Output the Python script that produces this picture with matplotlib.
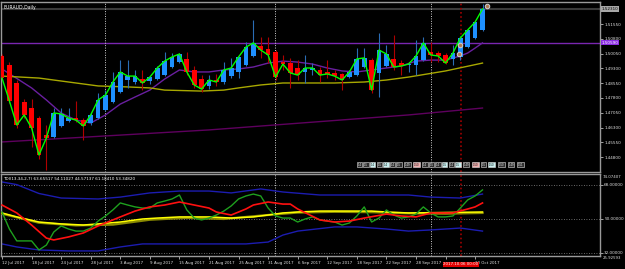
import matplotlib
matplotlib.use('Agg')
import matplotlib.pyplot as plt
import matplotlib.transforms as mtransforms

W, H = 625, 269

# ---- EURAUD daily candles (bar 0 = 12 Jul 2017) ----
opens = [1.4993, 1.4947, 1.4856, 1.4760, 1.4729, 1.4678, 1.4592, 1.4582, 1.4638, 1.4663,
         1.4678, 1.4668, 1.4653, 1.4678, 1.4719, 1.4760, 1.4810, 1.4871, 1.4861, 1.4876,
         1.4866, 1.4876, 1.4896, 1.4937, 1.4962, 1.4978, 1.4922, 1.4876, 1.4841, 1.4871,
         1.4861, 1.4891, 1.4912, 1.4947, 1.4993, 1.5043, 1.5028, 1.5013, 1.4962, 1.4957,
         1.4932, 1.4912, 1.4922, 1.4922, 1.4912, 1.4907, 1.4902, 1.4886, 1.4896, 1.4937,
         1.4972, 1.4907, 1.4942, 1.4978, 1.4957, 1.4947, 1.4947, 1.4972, 1.5013, 1.5008,
         1.4998, 1.4978, 1.4988, 1.5038, 1.5084, 1.5125]
highs = [1.5003, 1.4962, 1.4871, 1.4775, 1.4775, 1.4689, 1.4643, 1.4729, 1.4729, 1.4729,
         1.4765, 1.4678, 1.4704, 1.4805, 1.4820, 1.4912, 1.4972, 1.4972, 1.4922, 1.4922,
         1.4891, 1.4942, 1.5013, 1.5008, 1.5008, 1.5013, 1.4942, 1.4896, 1.4896, 1.4902,
         1.4962, 1.4983, 1.4988, 1.5064, 1.5175, 1.5089, 1.5089, 1.5023, 1.4998, 1.4983,
         1.4972, 1.4998, 1.4957, 1.4937, 1.4972, 1.4922, 1.4907, 1.4922, 1.5033, 1.5033,
         1.4983, 1.5109, 1.5049, 1.5099, 1.4972, 1.4962, 1.5074, 1.5089, 1.5064, 1.5018,
         1.5008, 1.5049, 1.5094, 1.5130, 1.5170, 1.5256]
lows = [1.4871, 1.4754, 1.4628, 1.4678, 1.4531, 1.4471, 1.4415, 1.4577, 1.4633, 1.4658,
        1.4658, 1.4567, 1.4643, 1.4673, 1.4714, 1.4754, 1.4805, 1.4831, 1.4851, 1.4820,
        1.4851, 1.4871, 1.4891, 1.4932, 1.4957, 1.4896, 1.4831, 1.4810, 1.4825, 1.4841,
        1.4851, 1.4881, 1.4881, 1.4942, 1.4988, 1.4983, 1.4957, 1.4871, 1.4922, 1.4831,
        1.4871, 1.4856, 1.4896, 1.4861, 1.4881, 1.4871, 1.4820, 1.4881, 1.4891, 1.4932,
        1.4805, 1.4785, 1.4937, 1.4922, 1.4896, 1.4912, 1.4896, 1.4967, 1.4962, 1.4962,
        1.4952, 1.4947, 1.4972, 1.5033, 1.5079, 1.5120]
closes = [1.4881, 1.4765, 1.4643, 1.4694, 1.4628, 1.4491, 1.4577, 1.4704, 1.4699, 1.4678,
          1.4668, 1.4638, 1.4694, 1.4770, 1.4795, 1.4861, 1.4912, 1.4891, 1.4891, 1.4856,
          1.4886, 1.4932, 1.4967, 1.4988, 1.5003, 1.4912, 1.4846, 1.4825, 1.4871, 1.4861,
          1.4922, 1.4932, 1.4988, 1.5038, 1.5059, 1.5023, 1.4998, 1.4886, 1.4952, 1.4907,
          1.4896, 1.4932, 1.4932, 1.4896, 1.4902, 1.4891, 1.4871, 1.4912, 1.4978, 1.4983,
          1.4820, 1.5023, 1.5003, 1.4937, 1.4942, 1.4952, 1.4993, 1.5059, 1.4998, 1.4993,
          1.4957, 1.5008, 1.5084, 1.5125, 1.5165, 1.5231]

# moving averages on the price chart (bar index, value)
ma_mid_bars = [0, 4, 6, 8, 10, 12, 14, 16, 18, 20, 22, 24, 26, 28, 30, 32, 34, 36, 38,
               40, 42, 44, 46, 48, 50, 52, 54, 56, 58, 60, 62, 63, 64, 65]
ma_mid = [1.4927, 1.4831, 1.4770, 1.4704, 1.4668, 1.4653, 1.4694, 1.4749, 1.4785, 1.4820,
          1.4876, 1.4922, 1.4912, 1.4912, 1.4922, 1.4927, 1.4937, 1.4957, 1.4967, 1.4962,
          1.4952, 1.4932, 1.4917, 1.4912, 1.4922, 1.4932, 1.4942, 1.4967, 1.4972, 1.4972,
          1.4993, 1.5008, 1.5033, 1.5059]
ma_slow_bars = [0, 5, 9, 13, 17, 20, 22, 27, 30, 32, 35, 38, 45, 49, 52, 55, 60, 65]
ma_slow = [1.4891, 1.4881, 1.4861, 1.4841, 1.4836, 1.4831, 1.4820, 1.4815, 1.4820, 1.4831,
           1.4846, 1.4856, 1.4856, 1.4861, 1.4871, 1.4886, 1.4917, 1.4957]
ma_long_bars = [0, 28, 55, 65]
ma_long = [1.4557, 1.4618, 1.4694, 1.4729]

hline_price = 1.50590
bid_price = 1.52310
price_ticks = [1.5155, 1.5080, 1.5005, 1.4930, 1.4855, 1.4780, 1.4705, 1.4630, 1.4555, 1.4480]

# every 4th bar; the 4 Oct label sits under the red time box on the chart
date_labels = ['12 Jul 2017', '18 Jul 2017', '24 Jul 2017', '28 Jul 2017', '3 Aug 2017',
               '9 Aug 2017', '15 Aug 2017', '21 Aug 2017', '25 Aug 2017', '31 Aug 2017',
               '6 Sep 2017', '12 Sep 2017', '18 Sep 2017', '22 Sep 2017', '28 Sep 2017',
               '', '10 Oct 2017']

# ---- TDI(13,34,2,7) sub window ----
tdi_rsi = [53.7, 44.7, 38.4, 38.4, 38.4, 33.6, 36.2, 43.1, 46.3, 44.7,
           43.6, 43.6, 45.2, 48.9, 51.6, 54.8, 58.5, 57.4, 56.4, 55.8,
           55.8, 58.5, 59.5, 60.6, 62.7, 54.8, 50.5, 49.5, 50.5, 52.1,
           54.2, 56.9, 60.6, 62.2, 63.2, 62.2, 55.8, 51.6, 50.5, 50.5,
           48.4, 50.0, 51.1, 49.5, 48.9, 48.4, 46.8, 47.9, 51.6, 56.4,
           48.4, 50.5, 54.8, 52.1, 50.5, 51.1, 52.6, 56.4, 53.2, 51.1,
           51.1, 51.6, 55.8, 60.1, 62.2, 65.4]
tdi_signal_bars = [0, 2, 4, 6, 7, 9, 11, 13, 16, 18, 20, 22, 24, 26, 28, 29, 31, 33, 34,
                   36, 38, 39, 40, 43, 45, 47, 49, 52, 54, 56, 58, 61, 63, 64, 65]
tdi_signal = [57.4, 53.2, 46.8, 39.9, 38.9, 40.5, 42.6, 46.3, 51.1, 54.2, 56.4, 57.4, 59.0,
              57.4, 55.8, 53.7, 52.1, 55.3, 57.4, 59.0, 57.9, 57.9, 55.3, 49.5, 48.4, 48.9,
              50.5, 52.6, 51.6, 51.1, 53.2, 53.2, 55.3, 56.4, 58.5]
tdi_base_bars = [0, 2, 5, 8, 11, 13, 16, 19, 21, 24, 28, 31, 34, 36, 38, 40, 43, 50, 52, 55, 65]
tdi_base = [53.2, 51.1, 48.4, 47.4, 46.8, 47.4, 48.4, 50.0, 50.5, 51.1, 51.1, 50.5, 51.1,
            52.1, 53.2, 53.7, 54.2, 54.2, 53.7, 53.2, 53.7]
tdi_base2_bars = [0, 5, 10, 15, 20, 25, 30, 35, 40, 45, 50, 55, 60, 65]
tdi_base2 = [52.8, 48.0, 46.6, 47.0, 49.6, 50.6, 50.0, 51.8, 53.4, 53.8, 53.6, 53.0, 52.8, 53.2]
tdi_upper_bars = [0, 2, 5, 8, 13, 16, 20, 24, 28, 31, 35, 38, 43, 55, 58, 62, 65]
tdi_upper = [69.6, 68.2, 63.5, 61.1, 60.6, 61.6, 63.8, 64.8, 64.8, 63.8, 65.9, 64.3, 62.7,
             62.7, 61.6, 61.1, 63.2]
tdi_lower_bars = [0, 2, 5, 9, 13, 16, 19, 28, 33, 36, 38, 40, 45, 48, 52, 55, 58, 62, 65]
tdi_lower = [36.8, 35.2, 33.6, 33.1, 33.1, 35.2, 36.8, 36.8, 36.8, 37.8, 41.5, 43.6, 45.8,
             45.8, 44.7, 43.6, 44.2, 45.2, 43.6]
tdi_title = 'TDI(13,34,2,7) 63.65517 54.11027 44.57137 61.18410 53.34820'


def add_ax(fig, left, top, right, bottom):
    '''axes placed by pixel edges'''
    return fig.add_axes([left / W, 1 - bottom / H, (right - left) / W, (bottom - top) / H])


def style(ax):
    ax.set_facecolor('black')
    for s in ax.spines.values():
        s.set_color('#9a9a9a')
        s.set_linewidth(1.0)


def main():
    fig = plt.figure(figsize=(W / 100, H / 100), dpi=100, facecolor='black')

    step = 7.38                      # pixels per bar
    xl = (-1 / step, 597 / step)

    # ---------------- price window ----------------
    ax = add_ax(fig, 1, 2, 600, 172)
    style(ax)
    ax.set_xlim(*xl)
    ax.set_ylim(1.44047, 1.52666)

    for i in range(len(closes)):
        o, h, l, c = opens[i], highs[i], lows[i], closes[i]
        up = c >= o
        body = '#1e90ff' if up else '#ff0000'
        wick = '#2a6db5' if up else '#b00000'
        ax.vlines(i, l, h, color=wick, linewidth=0.8, zorder=3)
        ax.bar(i, max(abs(c - o), 0.0002), bottom=min(o, c), width=0.64,
               color=body, linewidth=0, zorder=4)

    ax.plot(range(len(closes)), closes, color='#00ff00', linewidth=1.0, zorder=5)
    ax.plot(ma_mid_bars, ma_mid, color='#6a1fa0', linewidth=1.0, zorder=2)
    ax.plot(ma_slow_bars, ma_slow, color='#a8a800', linewidth=1.0, zorder=2)
    ax.plot(ma_long_bars, ma_long, color='#5e005e', linewidth=1.0, zorder=2)
    ax.axhline(hline_price, color='#7a26b0', linewidth=1.0, zorder=1)
    ax.axhline(bid_price, color='#3a3a3a', linewidth=1.5, zorder=1)

    # month separators and the vertical line object
    for b in [13.96, 36.99, 58.0]:
        ax.axvline(b, color='#d0d0d0', linestyle=(0, (1, 1.5)), linewidth=0.7, zorder=1)
    ax.axvline(62.06, color='#a00000', linestyle=(0, (1, 1.5)), linewidth=1.2, zorder=1)

    # trade markers
    ax.plot([62.0, 61.8, 65.6], [1.5049, 1.5003, 1.5246], linestyle='none', marker='o',
            markersize=3.2, markerfacecolor='#b07850', markeredgecolor='#c8c8c8',
            markeredgewidth=0.8, zorder=6)

    ax.yaxis.tick_right()
    ax.set_yticks(price_ticks)
    ax.set_yticklabels(['%.5f' % p for p in price_ticks])
    ax.tick_params(axis='y', colors='#e0e0e0', labelsize=3.0, length=2, width=0.5, pad=1)
    ax.set_xticks([])

    ax.text(0.004, 0.985, 'EURAUD,Daily', transform=ax.transAxes, color='white',
            fontsize=3.3, va='top', ha='left')

    yt = ax.get_yaxis_transform()
    ax.text(1.003, bid_price, '%.5f' % bid_price, transform=yt, fontsize=3.0, va='center',
            ha='left', color='black',
            bbox=dict(facecolor='#a8a8a8', edgecolor='none', pad=0.4))
    ax.text(1.003, hline_price, '%.5f' % hline_price, transform=yt, fontsize=3.0,
            va='center', ha='left', color='white',
            bbox=dict(facecolor='#8a2be2', edgecolor='none', pad=0.4))

    # row of small info boxes at the bottom of the price window
    boxes = [('1.4', '#303030'), ('1.5', '#303030'), ('1.4', '#c8f0f0'), ('1.5', '#303030'),
             ('1.4', '#c8f0f0'), ('1.4', '#303030'), ('1.5', '#303030'), ('1.49', '#303030'),
             ('1.50', '#f0b0b0'), ('1.4', '#303030'), ('1.5', '#303030'), ('1.4', '#303030'),
             ('1.5', '#c8f0f0'), ('1.4', '#303030'), ('1.5', '#c8f0f0'), ('1.49', '#303030'),
             ('1.50', '#f0b0b0'), ('1.5', '#303030'), ('1.50', '#c8f0f0'), ('1.50', '#303030'),
             ('1.49', '#303030'), ('1.51', '#303030')]
    xpix = 357
    for label, col in boxes:
        wpx = 5 if len(label) < 4 else 8
        x0 = (xpix - 1) / 599
        ax.text(x0 + wpx / 2 / 599, 0.042, label, transform=ax.transAxes, fontsize=1.8,
                ha='center', va='center', color='black' if col != '#303030' else 'white',
                bbox=dict(facecolor=col, edgecolor='#e0e0e0', linewidth=0.4,
                          boxstyle='square,pad=0.25'))
        xpix += wpx + 1.6

    # ---------------- TDI window ----------------
    ax2 = add_ax(fig, 1, 174, 600, 256)
    style(ax2)
    ax2.set_xlim(*xl)
    ax2.set_ylim(30.41, 73.82)
    for lvl in [68, 50, 32]:
        ax2.axhline(lvl, color='#8c8c8c', linestyle=(0, (1, 2)), linewidth=0.6, zorder=1)
    for b in [13.96, 36.99, 58.0]:
        ax2.axvline(b, color='#d0d0d0', linestyle=(0, (1, 1.5)), linewidth=0.7, zorder=1)
    ax2.axvline(62.06, color='#a00000', linestyle=(0, (1, 1.5)), linewidth=1.2, zorder=1)

    ax2.plot(tdi_upper_bars, tdi_upper, color='#1c1cb0', linewidth=1.0, zorder=2)
    ax2.plot(tdi_lower_bars, tdi_lower, color='#1c1cb0', linewidth=1.0, zorder=2)
    ax2.plot(tdi_base2_bars, tdi_base2, color='#8a8a00', linewidth=1.6, zorder=3)
    ax2.plot(tdi_base_bars, tdi_base, color='#ffff00', linewidth=1.1, zorder=4)
    ax2.plot(range(len(tdi_rsi)), tdi_rsi, color='#1ea01e', linewidth=1.0, zorder=5)
    ax2.plot(tdi_signal_bars, tdi_signal, color='#ff1010', linewidth=1.2, zorder=6)

    ax2.text(0.003, 0.96, tdi_title, transform=ax2.transAxes, color='white', fontsize=3.0,
             va='top', ha='left')

    ax2.yaxis.tick_right()
    ax2.set_yticks([68, 50, 32])
    ax2.set_yticklabels(['68.00000', '50.00000', '32.00000'])
    ax2.tick_params(axis='y', colors='#e0e0e0', labelsize=3.0, length=2, width=0.5, pad=1)
    yt2 = ax2.get_yaxis_transform()
    ax2.text(1.005, 72.4, '74.07407', transform=yt2, fontsize=2.8, va='center', ha='left',
             color='#e0e0e0')
    ax2.text(1.005, 29.2, '25.92593', transform=yt2, fontsize=2.8, va='center', ha='left',
             color='#e0e0e0', clip_on=False)

    ax2.set_xticks(range(0, 4 * len(date_labels), 4))
    ax2.set_xticklabels(date_labels)
    for lab in ax2.get_xticklabels():
        lab.set_ha('left')
    ax2.tick_params(axis='x', colors='#e0e0e0', labelsize=2.9, length=2, width=0.5, pad=1.5)

    tr = mtransforms.blended_transform_factory(ax2.transData, ax2.transAxes)
    ax2.text(62.06, -0.075, '2017.10.06 00:00', transform=tr, fontsize=2.9, va='top',
             ha='center', color='white',
             bbox=dict(facecolor='#e00000', edgecolor='none', pad=0.4), zorder=10)

    fig.savefig('out.png', dpi=100, facecolor='black')


if __name__ == '__main__':
    main()
